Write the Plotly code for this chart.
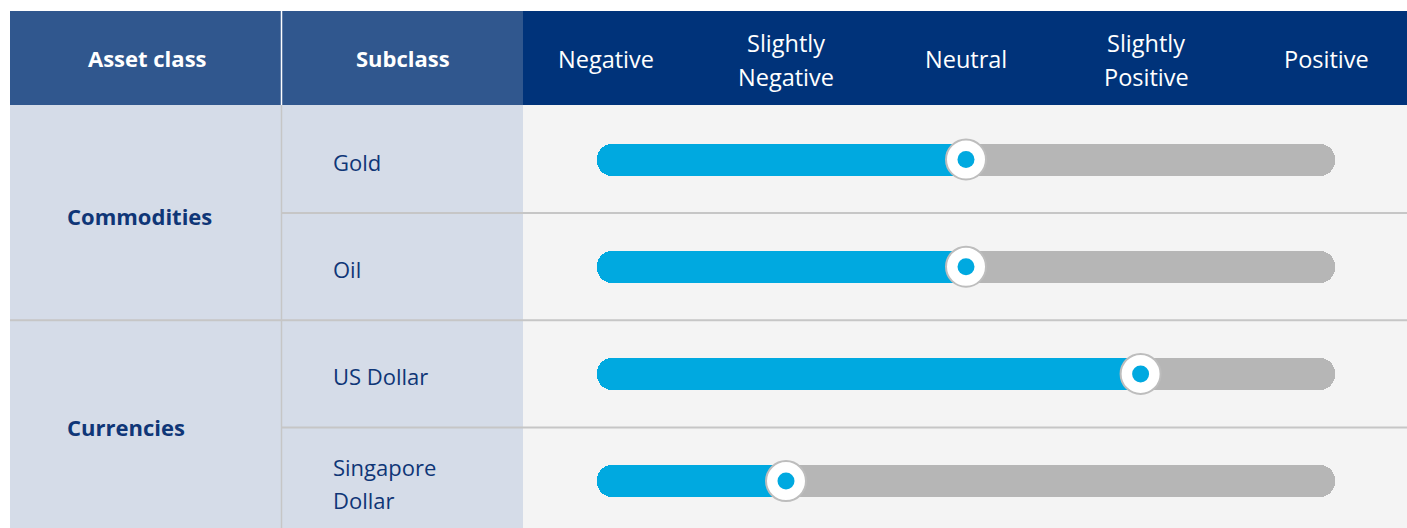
import plotly.graph_objects as go

# ---- data ----
asset_classes = ["Commodities", "Currencies"]
subclasses = ["Gold", "Oil", "US Dollar", "Singapore<br>Dollar"]
subclass_group = [0, 0, 1, 1]
scores = [3.0, 3.0, 3.97, 2.0]          # 1 = Negative ... 5 = Positive
scale_labels = ["Negative", "Slightly<br>Negative", "Neutral", "Slightly<br>Positive", "Positive"]
scale_values = [1, 2, 3, 4, 5]
col_headers = ["Asset class", "Subclass"]
track_min, track_max = 0.95, 5.05

# ---- style ----
W, H = 1407, 528
FONT = "Open Sans"
NAVY_TEXT = "#0f3677"
HDR_LEFT = "#30578e"
HDR_RIGHT = "#00337a"
BODY_LEFT = "#d5dce8"
BODY_RIGHT = "#f4f4f4"
BLUE = "#00a9e0"
GREY = "#b6b6b6"
LINE = "#c6c6c6"

def px(x):
    return x / W

def py(y):
    return 1 - y / H

# axis geometry: value v -> pixel 606 + 180*(v-1); row i -> pixel 159.5 + 107.2*i
x_range = [1 - 606 / 180, 1 + (W - 606) / 180]
row_h = 107.2
y_range = [(H - 159.5) / row_h, -159.5 / row_h]

rows = list(range(len(subclasses)))
fig = go.Figure()

bar_w = 32 / row_h
span = track_max - track_min
ov = 0.25
# grey track: two overlapping bars, each with its far end rounded
fig.add_trace(go.Bar(orientation="h", y=rows, x=[-(span - ov)] * len(rows), base=track_max - ov,
                     width=bar_w, marker=dict(color=GREY, cornerradius=15, line_width=0),
                     hoverinfo="skip", showlegend=False))
fig.add_trace(go.Bar(orientation="h", y=rows, x=[span - ov] * len(rows), base=track_min + ov,
                     width=bar_w, marker=dict(color=GREY, cornerradius=15, line_width=0),
                     hoverinfo="skip", showlegend=False))
# blue fill from the knob back to the start
fig.add_trace(go.Bar(orientation="h", y=rows, x=[track_min - s for s in scores], base=scores,
                     width=bar_w, marker=dict(color=BLUE, cornerradius=15, line_width=0),
                     hoverinfo="skip", showlegend=False))
# knob
fig.add_trace(go.Scatter(x=scores, y=rows, mode="markers",
                         marker=dict(size=40, color="white", line=dict(color="#bdbdbd", width=2)),
                         hoverinfo="skip", showlegend=False))
fig.add_trace(go.Scatter(x=scores, y=rows, mode="markers",
                         marker=dict(size=17, color=BLUE, line_width=0),
                         hoverinfo="skip", showlegend=False))

shapes = []
# header backgrounds
shapes.append(dict(type="rect", xref="paper", yref="paper", x0=px(10), x1=px(523),
                   y0=py(105), y1=py(11), fillcolor=HDR_LEFT, line_width=0, layer="below"))
shapes.append(dict(type="rect", xref="paper", yref="paper", x0=px(523), x1=1,
                   y0=py(105), y1=py(11), fillcolor=HDR_RIGHT, line_width=0, layer="below"))
shapes.append(dict(type="line", xref="paper", yref="paper", x0=px(281.5), x1=px(281.5),
                   y0=py(105), y1=py(11), line=dict(color="white", width=1.5), layer="below"))
# body backgrounds
shapes.append(dict(type="rect", xref="paper", yref="paper", x0=px(10), x1=px(523),
                   y0=0, y1=py(105), fillcolor=BODY_LEFT, line_width=0, layer="below"))
shapes.append(dict(type="rect", xref="paper", yref="paper", x0=px(523), x1=1,
                   y0=0, y1=py(105), fillcolor=BODY_RIGHT, line_width=0, layer="below"))
shapes.append(dict(type="line", xref="paper", yref="paper", x0=px(281.5), x1=px(281.5),
                   y0=0, y1=py(105), line=dict(color=LINE, width=1.5), layer="below"))
# row separators
for i in range(1, len(subclasses)):
    new_group = subclass_group[i] != subclass_group[i - 1]
    shapes.append(dict(type="line", xref="paper", yref="y", x0=px(10) if new_group else px(281.5),
                       x1=1, y0=i - 0.5, y1=i - 0.5, line=dict(color=LINE, width=2), layer="below"))

ann = []
# column headers
for label, cx in zip(col_headers, [147, 403]):
    ann.append(dict(text=f"<b>{label}</b>", xref="paper", yref="paper", x=px(cx), y=py(58),
                    showarrow=False, font=dict(family=FONT, size=22, color="white"),
                    xanchor="center", yanchor="middle"))
# scale labels
for label, v in zip(scale_labels, scale_values):
    lines = label.split("<br>")
    ys = [59] if len(lines) == 1 else [43, 77]
    for ln, yy in zip(lines, ys):
        ann.append(dict(text=ln, xref="x", yref="paper", x=v, y=py(yy), showarrow=False,
                        font=dict(family=FONT, size=23.5, color="white"),
                        xanchor="center", yanchor="middle"))
# subclass labels
for i, label in enumerate(subclasses):
    lines = label.split("<br>")
    n = len(lines)
    for k, ln in enumerate(lines):
        off = (k - (n - 1) / 2) * 33
        ann.append(dict(text=ln, xref="paper", yref="y", x=px(331), y=i, yshift=-off - 2,
                        showarrow=False, font=dict(family=FONT, size=22, color=NAVY_TEXT),
                        xanchor="left", yanchor="middle"))
# asset class labels, centred on the visible part of their group
for g, label in enumerate(asset_classes):
    members = [i for i, gg in enumerate(subclass_group) if gg == g]
    lo = min(members) - 0.5
    hi = min(max(members) + 0.5, y_range[0])
    ann.append(dict(text=f"<b>{label}</b>", xref="paper", yref="y", x=px(65), y=(lo + hi) / 2,
                    showarrow=False, font=dict(family=FONT, size=22, color=NAVY_TEXT),
                    xanchor="left", yanchor="middle", yshift=-3))

fig.update_layout(
    width=W, height=H,
    margin=dict(l=0, r=0, t=0, b=0),
    paper_bgcolor="white", plot_bgcolor="rgba(0,0,0,0)",
    barmode="overlay", bargap=0,
    xaxis=dict(range=x_range, domain=[0, 1], visible=False, fixedrange=True),
    yaxis=dict(range=y_range, domain=[0, 1], visible=False, fixedrange=True),
    shapes=shapes, annotations=ann,
    showlegend=False,
)

fig.write_html("out.html", config={"displayModeBar": False},
               post_script="document.body.style.margin='0';document.body.style.overflow='hidden';")
